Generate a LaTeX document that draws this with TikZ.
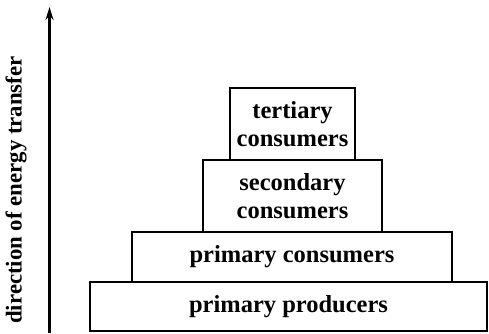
\documentclass[tikz,border=0pt]{standalone}
\usepackage{fontspec}
\setmainfont{Liberation Serif}
\usetikzlibrary{arrows.meta}
\begin{document}
\begin{tikzpicture}[x=1pt,y=1pt,
  level/.style={draw, line width=2pt, inner sep=0pt, align=center,
    font=\fontsize{24.5}{28}\selectfont\bfseries},
  axis/.style={line width=2.2pt, -{Stealth[length=13pt,width=8pt]}}]
\useasboundingbox (0,0) rectangle (489,333);
\node[level, minimum width=397pt, minimum height=49pt] (prod) at (288.5,26.5) {primary producers};
\node[level, minimum width=320pt, minimum height=50pt] (prim) at (292,76) {primary consumers};
\node[level, minimum width=179pt, minimum height=72pt] (sec) at (292.5,137) {secondary\\consumers};
\node[level, minimum width=125pt, minimum height=72pt] (ter) at (292.5,209) {tertiary\\consumers};
\coordinate (abot) at (49.5,0);
\coordinate (atop) at (49.5,326);
\draw[axis] (abot) -- (atop);
\node[rotate=90, font=\fontsize{22.8}{26}\selectfont\bfseries] (lab) at (16,143) {direction of energy transfer};
\end{tikzpicture}
\end{document}
